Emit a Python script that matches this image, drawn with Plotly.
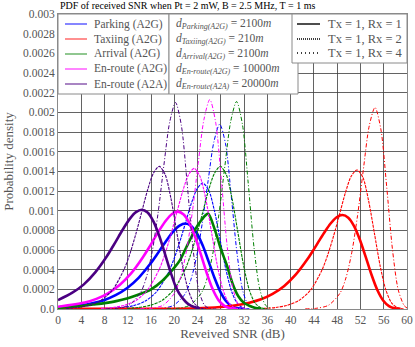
import plotly.graph_objects as go

# ---- data (SNR in dB, probability density) ----
snr_parking_rx1 = [0, 3.9, 5.9, 7.9, 9.9, 11.9, 13.9, 15.9, 16.9, 17.9, 18.9, 19.9, 20.9, 21.9, 22.9, 23.9, 24.9, 25.9, 26.9, 27.9, 28.9, 29.9, 30.9, 31.9]
pdf_parking_rx1 = [0.000018, 0.000037, 0.000058, 0.00009, 0.000141, 0.000214, 0.00032, 0.000462, 0.000545, 0.000632, 0.000718, 0.000794, 0.000849, 0.00087, 0.000845, 0.000768, 0.000642, 0.000482, 0.000317, 0.000176, 0.000079, 0.000027, 0.000007, 0.000001]
snr_parking_rx2 = [8.9, 10.9, 12.9, 14.9, 16.9, 18.9, 19.9, 20.9, 21.9, 22.9, 23.9, 24.9, 25.9, 26.9, 27.9, 28.9, 29.9, 30.9, 31.9, 32.9]
pdf_parking_rx2 = [0.000006, 0.000014, 0.000033, 0.000077, 0.000173, 0.000361, 0.000502, 0.000676, 0.000872, 0.00107, 0.00122, 0.00128, 0.00121, 0.000998, 0.000696, 0.000393, 0.00017, 0.000052, 0.00001, 0.000001]
snr_parking_rx4 = [15.8, 17.8, 19.8, 21.8, 22.8, 23.8, 24.8, 25.8, 26.8, 27.8, 28.8, 29.8, 30.8, 31.8, 32.8, 33.8, 34.8]
pdf_parking_rx4 = [0.000001, 0.000007, 0.000035, 0.000149, 0.00029, 0.000525, 0.000872, 0.0013, 0.0017, 0.00188, 0.00168, 0.00114, 0.000556, 0.000177, 0.000033, 0.000003, 0.0]

snr_taxiing_rx1 = [0, 10, 20, 24.9, 28.9, 30.9, 32.9, 34.9, 36.9, 38.9, 40.9, 42.9, 43.9, 44.9, 45.9, 46.9, 47.9, 48.9, 49.9, 50.9, 51.9, 52.9, 53.9, 54.9, 55.9, 56.9, 57.9, 58.9]
pdf_taxiing_rx1 = [0.000001, 0.000001, 0.000003, 0.00001, 0.000026, 0.00004, 0.000064, 0.000099, 0.000154, 0.000235, 0.000352, 0.000508, 0.000599, 0.000695, 0.000789, 0.000872, 0.000933, 0.000956, 0.000929, 0.000844, 0.000705, 0.00053, 0.000348, 0.000193, 0.000087, 0.00003, 0.000007, 0.000001]
snr_taxiing_rx2 = [35.4, 37.4, 39.4, 41.4, 43.4, 45.4, 46.4, 47.4, 48.4, 49.4, 50.4, 51.4, 52.4, 53.4, 54.4, 55.4, 56.4, 57.4, 58.4, 59.4]
pdf_taxiing_rx2 = [0.000006, 0.000015, 0.000037, 0.000086, 0.000191, 0.000399, 0.000555, 0.000747, 0.000963, 0.00118, 0.00135, 0.001414, 0.00134, 0.0011, 0.000769, 0.000434, 0.000187, 0.000058, 0.000012, 0.000001]
snr_taxiing_rx4 = [42.5, 44.5, 46.5, 48.5, 49.5, 50.5, 51.5, 52.5, 53.5, 54.5, 55.5, 56.5, 57.5, 58.5, 59.5, 60]
pdf_taxiing_rx4 = [0.000001, 0.000008, 0.000038, 0.000163, 0.000316, 0.000572, 0.000951, 0.00142, 0.00186, 0.00205, 0.00183, 0.00125, 0.000606, 0.000193, 0.000036, 0.00001]

snr_arrival_rx1 = [0, 2, 4, 6, 8, 10, 12, 14, 16, 18, 20, 21, 22, 23, 24, 25, 25.8, 27, 28, 29, 30, 31, 32, 33, 34, 35]
pdf_arrival_rx1 = [0.00001, 0.00002, 0.00003, 0.000045, 0.00006, 0.00008, 0.00011, 0.00015, 0.0002, 0.00029, 0.00042, 0.0005, 0.00062, 0.00074, 0.00085, 0.00093, 0.00097, 0.0008, 0.00061, 0.00045, 0.00026, 0.00013, 0.00006, 0.00003, 0.00001, 0.000003]
snr_arrival_rx2 = [11.9, 13.9, 15.9, 17.9, 19.9, 21.9, 22.9, 23.9, 24.9, 25.9, 26.9, 27.9, 28.9, 29.9, 30.9, 31.9, 32.9, 33.9, 34.9, 35.9]
pdf_arrival_rx2 = [0.000006, 0.000016, 0.000038, 0.000088, 0.000196, 0.000409, 0.000569, 0.000766, 0.000988, 0.00121, 0.00138, 0.00145, 0.00137, 0.00113, 0.000789, 0.000445, 0.000192, 0.000059, 0.000012, 0.000001]
snr_arrival_rx4 = [18.7, 20.7, 22.7, 24.7, 25.7, 26.7, 27.7, 28.7, 29.7, 30.7, 31.7, 32.7, 33.7, 34.7, 35.7, 36.7]
pdf_arrival_rx4 = [0.000001, 0.000008, 0.000039, 0.000168, 0.000325, 0.000589, 0.000979, 0.00146, 0.00191, 0.00211, 0.00188, 0.00128, 0.000624, 0.000199, 0.000037, 0.000004]

snr_enroute_rx1 = [0, 4.6, 6.6, 8.6, 10.6, 12.6, 14.6, 15.6, 16.6, 17.6, 18.6, 19.6, 20.6, 21.6, 22.6, 23.6, 24.6, 25.6, 26.6, 27.6, 28.6, 29.6, 30.6]
pdf_enroute_rx1 = [0.000023, 0.000066, 0.000103, 0.00016, 0.000244, 0.000364, 0.000526, 0.00062, 0.00072, 0.000817, 0.000903, 0.000966, 0.00099, 0.000962, 0.000874, 0.00073, 0.000548, 0.00036, 0.0002, 0.00009, 0.000031, 0.000008, 0.000001]
snr_enroute_rx2 = [7.4, 9.4, 11.4, 13.4, 15.4, 17.4, 18.4, 19.4, 20.4, 21.4, 22.4, 23.4, 24.4, 25.4, 26.4, 27.4, 28.4, 29.4, 30.4, 31.4]
pdf_enroute_rx2 = [0.000006, 0.000015, 0.000037, 0.000087, 0.000194, 0.000403, 0.000561, 0.000755, 0.000974, 0.00119, 0.00136, 0.00143, 0.00135, 0.00112, 0.000778, 0.000439, 0.000189, 0.000058, 0.000012, 0.000001]
snr_enroute_rx4 = [14.1, 16.1, 18.1, 20.1, 21.1, 22.1, 23.1, 24.1, 25.1, 26.1, 27.1, 28.1, 29.1, 30.1, 31.1, 32.1, 33.1]
pdf_enroute_rx4 = [0.000001, 0.000008, 0.000039, 0.000169, 0.000328, 0.000594, 0.000988, 0.00148, 0.00193, 0.00213, 0.0019, 0.0013, 0.00063, 0.0002, 0.000037, 0.000004, 0.0]

snr_a2a_rx1 = [0, 2.4, 4.4, 6.4, 8.4, 9.4, 10.4, 11.4, 12.4, 13.4, 14.4, 15.4, 16.4, 17.4, 18.4, 19.4, 20.4, 21.4, 22.4, 23.4, 24.4]
pdf_a2a_rx1 = [0.00009, 0.000163, 0.000248, 0.000372, 0.000536, 0.000633, 0.000734, 0.000834, 0.000922, 0.000985, 0.00101, 0.000982, 0.000892, 0.000745, 0.000559, 0.000368, 0.000204, 0.00011, 0.00005, 0.00002, 0.000005]
snr_a2a_rx2 = [1.4, 3.4, 5.4, 7.4, 9.4, 11.4, 12.4, 13.4, 14.4, 15.4, 16.4, 17.4, 18.4, 19.4, 20.4, 21.4, 22.4, 23.4, 24.4, 25.4]
pdf_a2a_rx2 = [0.000006, 0.000016, 0.000038, 0.000088, 0.000196, 0.000409, 0.000569, 0.000766, 0.000988, 0.00121, 0.00138, 0.00145, 0.00137, 0.00113, 0.000789, 0.000445, 0.000192, 0.000059, 0.000012, 0.000001]
snr_a2a_rx4 = [8.2, 10.2, 12.2, 14.2, 15.2, 16.2, 17.2, 18.2, 19.2, 20.2, 21.2, 22.2, 23.2, 24.2, 25.2, 26.2, 27.2]
pdf_a2a_rx4 = [0.000001, 0.000008, 0.000039, 0.000167, 0.000323, 0.000586, 0.000974, 0.00146, 0.0019, 0.0021, 0.00187, 0.00128, 0.000621, 0.000198, 0.000037, 0.000004, 0.0]

scenario_names = ["Parking (A2G)", "Taxiing (A2G)", "Arrival (A2G)", "En-route (A2G)", "En-route (A2A)"]
distance_labels = [("Parking(A2G)", "2100"), ("Taxiing(A2G)", "210"), ("Arrival(A2G)", "2100"),
                   ("En-route(A2G)", "10000"), ("En-route(A2A)", "20000")]
antenna_labels = ["Tx = 1, Rx = 1", "Tx = 1, Rx = 2", "Tx = 1, Rx = 4"]

x_ticks = list(range(0, 61, 4))
y_ticks = [0, 0.0002, 0.0004, 0.0006, 0.0008, 0.001, 0.0012, 0.0014, 0.0016, 0.0018,
           0.002, 0.0022, 0.0024, 0.0026, 0.0028, 0.003]
y_tick_text = ["0.0", "0.0002", "0.0004", "0.0006", "0.0008", "0.001", "0.0012", "0.0014",
               "0.0016", "0.0018", "0.002", "0.0022", "0.0024", "0.0026", "0.0028", "0.003"]

colors = ["#0000ff", "#ff0000", "#008000", "#ff00ff", "#4b0082"]
legend_colors = ["rgba(0,0,255,0.6)", "rgba(255,0,0,0.55)", "rgba(0,128,0,0.55)",
                 "rgba(255,0,255,0.6)", "rgba(75,0,130,0.6)"]

series = [
    [(snr_parking_rx1, pdf_parking_rx1), (snr_parking_rx2, pdf_parking_rx2), (snr_parking_rx4, pdf_parking_rx4)],
    [(snr_taxiing_rx1, pdf_taxiing_rx1), (snr_taxiing_rx2, pdf_taxiing_rx2), (snr_taxiing_rx4, pdf_taxiing_rx4)],
    [(snr_arrival_rx1, pdf_arrival_rx1), (snr_arrival_rx2, pdf_arrival_rx2), (snr_arrival_rx4, pdf_arrival_rx4)],
    [(snr_enroute_rx1, pdf_enroute_rx1), (snr_enroute_rx2, pdf_enroute_rx2), (snr_enroute_rx4, pdf_enroute_rx4)],
    [(snr_a2a_rx1, pdf_a2a_rx1), (snr_a2a_rx2, pdf_a2a_rx2), (snr_a2a_rx4, pdf_a2a_rx4)],
]

# line style for Rx = 1, 2, 4
line_styles = [(2.6, "solid"), (1.1, "3px,1px"), (1.0, "4px,2px,1px,2px")]

SERIF = "Liberation Serif, Times New Roman, serif"
TEXT_GREY = "#555555"

fig = go.Figure()

for color, curves in zip(colors, series):
    for (snr, pdf), (width, dash) in zip(curves, line_styles):
        fig.add_trace(go.Scatter(x=snr, y=pdf, mode="lines",
                                 line=dict(color=color, width=width, dash=dash,
                                           shape="spline", smoothing=0.8),
                                 showlegend=False, hoverinfo="skip"))

# plot area in pixels: x 58..407, y 14..309
def px_x(p):
    return (p - 58) / 349.0

def px_y(p):
    return (309 - p) / 295.0

shapes = []
annotations = []
box_line = dict(color="#8a8a8a", width=1)

# boxes: names, distances, antenna config (last one drawn on top)
for x0, x1, y0, y1 in [(58, 169, 14, 94), (169, 298, 14, 94), (292, 407, 14, 63)]:
    shapes.append(dict(type="rect", xref="paper", yref="paper",
                       x0=px_x(x0), x1=px_x(x1), y0=px_y(y1), y1=px_y(y0),
                       fillcolor="white", line=box_line, layer="above"))

row_y = [24, 39, 54, 69, 84]
for i, name in enumerate(scenario_names):
    shapes.append(dict(type="line", xref="paper", yref="paper",
                       x0=px_x(65), x1=px_x(87), y0=px_y(row_y[i]), y1=px_y(row_y[i]),
                       line=dict(color=legend_colors[i], width=1.6)))
    annotations.append(dict(xref="paper", yref="paper", x=px_x(92), y=px_y(row_y[i]),
                            xanchor="left", yanchor="middle", showarrow=False, text=name,
                            font=dict(family=SERIF, size=11.5, color=TEXT_GREY)))
    sub, val = distance_labels[i]
    annotations.append(dict(xref="paper", yref="paper", x=px_x(174), y=px_y(row_y[i]),
                            xanchor="left", yanchor="middle", showarrow=False,
                            text="<i>d</i><sub><i>%s</i></sub> = %s<i>m</i>" % (sub, val),
                            font=dict(family=SERIF, size=11.5, color=TEXT_GREY)))

tx_y = [24, 39, 53]
tx_dash = ["solid", "1px,1px", "1px,3px"]
for i, lab in enumerate(antenna_labels):
    shapes.append(dict(type="line", xref="paper", yref="paper",
                       x0=px_x(297), x1=px_x(320), y0=px_y(tx_y[i]), y1=px_y(tx_y[i]),
                       line=dict(color="black", width=1.4, dash=tx_dash[i])))
    annotations.append(dict(xref="paper", yref="paper", x=px_x(326), y=px_y(tx_y[i]),
                            xanchor="left", yanchor="middle", showarrow=False, text=lab,
                            font=dict(family=SERIF, size=12.5, color=TEXT_GREY)))

annotations.append(dict(xref="paper", yref="paper", x=0, y=px_y(5), xanchor="left",
                        yanchor="middle", showarrow=False,
                        text="PDF of received SNR when Pt = 2 mW, B = 2.5 MHz, T = 1 ms",
                        font=dict(family=SERIF, size=10, color="black")))

grid_color = "rgba(60,60,60,0.8)"
fig.update_layout(
    width=415, height=347,
    margin=dict(l=58, r=8, t=14, b=38),
    plot_bgcolor="white", paper_bgcolor="white",
    font=dict(family=SERIF, color=TEXT_GREY),
    shapes=shapes, annotations=annotations,
    xaxis=dict(range=[0, 60], tickvals=x_ticks, showgrid=True, gridcolor=grid_color,
               gridwidth=1, zeroline=False, showline=True, linecolor="#8a8a8a",
               mirror=True, ticks="", automargin=False,
               tickfont=dict(family=SERIF, size=11.5, color=TEXT_GREY),
               title=dict(text="Reveived SNR (dB)", standoff=4,
                          font=dict(family=SERIF, size=13, color=TEXT_GREY))),
    yaxis=dict(range=[0, 0.003], tickvals=y_ticks, ticktext=y_tick_text, showgrid=True,
               gridcolor=grid_color, gridwidth=1, zeroline=False, showline=True,
               linecolor="#8a8a8a", mirror=True, ticks="", automargin=False,
               tickfont=dict(family=SERIF, size=11.5, color=TEXT_GREY),
               title=dict(text="Probability density", standoff=6,
                          font=dict(family=SERIF, size=13, color=TEXT_GREY))),
)

# the page would otherwise add the browser's default 8px body margin
fig.write_html("out.html", config={"displayModeBar": False},
               post_script="document.body.style.margin='0';")
